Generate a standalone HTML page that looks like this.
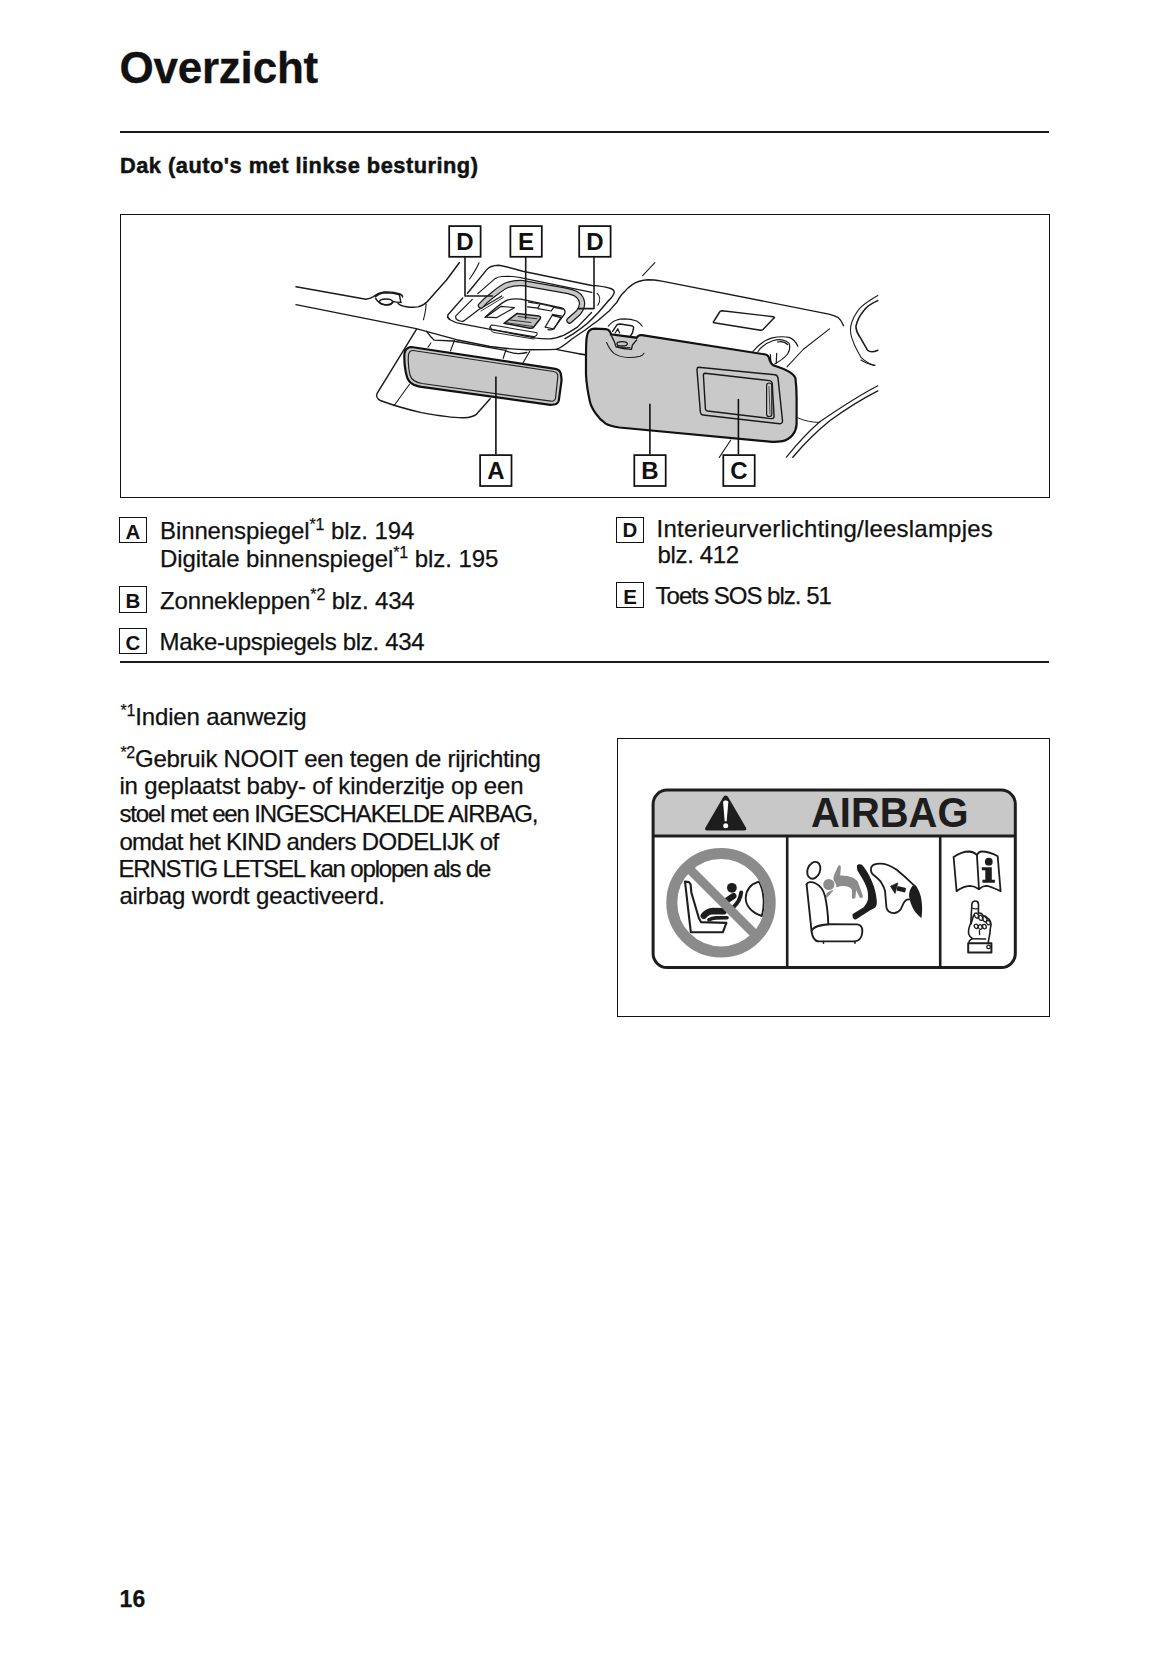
<!DOCTYPE html>
<html><head><meta charset="utf-8"><style>
*{box-sizing:border-box}
body{margin:0;background:#fff;width:1165px;height:1653px;overflow:hidden;position:relative}
.l{position:absolute;white-space:nowrap;font-family:"Liberation Sans",sans-serif;line-height:1;color:#111}
.l{-webkit-text-stroke:0.25px #111}
#sub{-webkit-text-stroke:0.5px #111}
#title{-webkit-text-stroke:0.3px #111}
.l sup{font-size:16px;vertical-align:0;position:relative;top:-9px;line-height:0}
.rule{position:absolute;left:120px;width:929px;height:2px;background:#1a1a1a}
.frame{position:absolute;border:1.5px solid #111}
.lb{position:absolute;width:27.4px;height:26.4px;border:1.4px solid #111;font:bold 20.5px/1 "Liberation Sans",sans-serif;text-align:center;color:#111}
.lb span{position:absolute;left:0;right:0;top:4px}
svg{position:absolute;left:0;top:0}
</style></head><body>
<div class="l" id="title" style="left:119.40px;top:46.00px;font-size:44px;font-weight:700;letter-spacing:-0.213px">Overzicht</div>
<div class="l" id="sub" style="left:120.00px;top:154.97px;font-size:21.8px;font-weight:700;letter-spacing:0.500px">Dak (auto's met linkse besturing)</div>
<div class="l" id="a1" style="left:160.00px;top:519.20px;font-size:24px;font-weight:400;letter-spacing:-0.104px">Binnenspiegel<sup>*1</sup> blz. 194</div>
<div class="l" id="a2" style="left:160.00px;top:547.00px;font-size:24px;font-weight:400;letter-spacing:-0.075px">Digitale binnenspiegel<sup>*1</sup> blz. 195</div>
<div class="l" id="b1" style="left:160.00px;top:589.40px;font-size:24px;font-weight:400;letter-spacing:-0.150px">Zonnekleppen<sup>*2</sup> blz. 434</div>
<div class="l" id="c1" style="left:159.60px;top:630.10px;font-size:24px;font-weight:400;letter-spacing:-0.313px">Make-upspiegels blz. 434</div>
<div class="l" id="d1" style="left:656.60px;top:517.30px;font-size:24px;font-weight:400;letter-spacing:0.216px">Interieurverlichting/leeslampjes</div>
<div class="l" id="d2" style="left:657.60px;top:543.40px;font-size:24px;font-weight:400;letter-spacing:-0.371px">blz. 412</div>
<div class="l" id="e1" style="left:655.60px;top:584.20px;font-size:24px;font-weight:400;letter-spacing:-0.988px">Toets SOS blz. 51</div>
<div class="l" id="f1" style="left:120.40px;top:705.10px;font-size:24px;font-weight:400;letter-spacing:-0.144px"><sup>*1</sup>Indien aanwezig</div>
<div class="l" id="p1" style="left:120.40px;top:747.00px;font-size:24px;font-weight:400;letter-spacing:-0.267px"><sup>*2</sup>Gebruik NOOIT een tegen de rijrichting</div>
<div class="l" id="p2" style="left:119.40px;top:773.50px;font-size:24px;font-weight:400;letter-spacing:-0.174px">in geplaatst baby- of kinderzitje op een</div>
<div class="l" id="p3" style="left:119.40px;top:801.50px;font-size:24px;font-weight:400;letter-spacing:-1.129px">stoel met een INGESCHAKELDE AIRBAG,</div>
<div class="l" id="p4" style="left:119.40px;top:830.00px;font-size:24px;font-weight:400;letter-spacing:-0.681px">omdat het KIND anders DODELIJK of</div>
<div class="l" id="p5" style="left:118.40px;top:857.00px;font-size:24px;font-weight:400;letter-spacing:-1.156px">ERNSTIG LETSEL kan oplopen als de</div>
<div class="l" id="p6" style="left:119.40px;top:884.00px;font-size:24px;font-weight:400;letter-spacing:-0.162px">airbag wordt geactiveerd.</div>
<div class="l" id="pg" style="left:119.40px;top:1588.35px;font-size:23px;font-weight:700;letter-spacing:0.200px">16</div>
<div class="rule" style="top:130.9px"></div>
<div class="frame" style="left:120px;top:214px;width:929.5px;height:284px"></div>
<div class="rule" style="top:661px"></div>
<div class="frame" style="left:617px;top:738px;width:432.5px;height:279px"></div>
<div class="lb" style="left:119.3px;top:516.9px"><span style="top:4px">A</span></div>
<div class="lb" style="left:119.3px;top:586.2px"><span style="top:4px">B</span></div>
<div class="lb" style="left:119.3px;top:627.5px"><span style="top:4px">C</span></div>
<div class="lb" style="left:616.3px;top:516.7px"><span style="top:2.3px">D</span></div>
<div class="lb" style="left:616.3px;top:582.1px"><span style="top:4px">E</span></div>
<svg width="1165" height="1653" viewBox="0 0 1165 1653" style="position:absolute;left:0;top:0">
<g fill="none" stroke="#1a1a1a" stroke-width="1.45" stroke-linecap="round" stroke-linejoin="round">
<!-- left headliner -->
<path d="M296,286.8 L366,299.2 C369,298.8 371,298 373,296.8 C376,294.5 380,292.5 384,292 C390,291.6 396,292.5 400,294 C402,295 402.8,296 402.5,297"/>
<path d="M375.5,296.6 C378,294.5 382,293 386,292.8 C392,292.8 396,293.5 399.4,294.7 L400.8,302.4"/>
<path d="M375.5,298.2 C377,301 380,304 385,305 C389,305.4 392,304 393.2,301.6 C395,302 398,302.3 401,302.4"/>
<ellipse cx="386" cy="301.8" rx="6.5" ry="2.8"/>
<path d="M397.9,303.2 C399,305 402,306.2 406.4,306.8 C410,307.4 414,307.6 418,306.9 C422,306 425,304 427.4,301.5 L446.5,280 L459.3,262.7"/>
<path d="M426.1,304 C426,309 425,314 423.4,319.8" stroke-width="1.08"/>

<path d="M426.5,331.2 C428.5,334 430.5,337 434.2,340.2 L453.1,341 L505.5,350.3 M505.5,350.8 C510,352.5 514,353.6 518.3,353.6 C522,353.5 525,353 526.8,352.5" stroke-width="1.3"/>
<path d="M416.4,329.4 L377,393.7 C376,396 377.5,399 380.3,400.5 C395,406 410,410 421.5,412.6 C440,416 455,418 464.4,417.7 C470,417.5 474,416 476.4,414.3 L490.2,398.8"/>
<path d="M409.5,384.2 L394,405.7" stroke-width="1.08"/>
<path d="M430.8,343 L428,347.2" stroke-width="1.08"/>
<path d="M469.6,279 C473,274 477,268 479,262.7" stroke-width="1.08"/>
<!-- console -->
<path d="M467.5,293.2 L486.8,269.6 C489,267 492,265.5 498.4,265.3 C503,265.5 510,267.5 522.8,271.3 L591.8,285.5 L597.8,285.9 C603,286.6 608,287.5 610.7,288.5 C613.5,289.5 615,291.5 613.7,294 C612.5,296.5 611,298.5 609.1,300.1 L598.3,312.5 C594.5,316.5 591,320 587.5,323.3 C582.5,327.5 577.5,331 572.8,334.1 L565,338.7"/>
<path d="M477.8,293.6 L495,278.6 C497,277.5 499,276.7 501.8,276.5 C505,276.3 509,276.3 513,276.5 C517,277 520,277.5 522.8,278.2 L591.8,292.3" stroke-width="1.2"/>
<path d="M462.7,298 L448,314.8 C447.2,316.5 447.8,318.3 449.5,319.6" stroke-width="1.3"/>
<path d="M472.3,299.4 L455.8,315.9 C455.3,318 456.8,320 459.2,320.7 C460.5,321.2 461.8,321.4 462.7,321.4 C464,320.8 465,320 466.1,319.3 L478.5,309.7 L501.8,296" stroke-width="1.2"/>
<path d="M447.6,316.8 C449,318.5 450,319.5 451,320.2 C454,322 457,323 460.6,323.7 L536.2,338.1 C541,338.8 546,339 549.9,338.8 C554,338.5 559,337 563.6,335.3 C568,333 573,330 577.4,327.1 L591.5,312.5" stroke-width="1.32"/>
<path d="M296,304.6 L416.2,328.6 L456.5,339.7 L490,346.5 C505,348.5 514,349.6 527.8,349.8 C540,349.8 548,349.6 556.1,349.4 C562,347.5 567,343 571.2,339.5 L585.9,329.5 C592,325 595,322.5 598.3,320.2 L609.1,310.9 C612,308 614,305 616.8,302.4 C619,298 621,294.5 624.6,291.6 C627,288.5 629.5,286.5 632.3,284.6 C636,282 641,280 648.1,279.7 C653,279.7 657,280.3 661.8,281.1 L828.8,314.1 C832,315 835,316 837.9,317.3 C840,319 842,322 843.6,325.7" stroke-width="1.38"/>

<path d="M454.4,340.6 L450.5,350.9 M506,349.6 L503.2,358.3 M529.7,351.2 L523,363" stroke-width="1.2"/>
<path d="M556,349.4 L585.5,355" stroke-width="1.3"/>
<path d="M597,293.2 C600,296 601,300 597.8,305.2" stroke-width="1.08"/>

<!-- console inner buttons -->
<path d="M485.1,317.2 C493,310 500,304 506,300.6 C510,298.8 515,298.6 521,299.2 L561.5,307.8 C564.5,308.8 565.8,311 564.5,314 L553.5,328.8 C552.5,330 550.5,330.2 548,329.6" stroke-width="1.32"/>
<path d="M501.2,306.3 L514.4,307.7 L496.4,317.7 L485.6,317.2 Z" stroke-width="1.2"/>
<path d="M528.5,302.1 L539.9,304 L538,308.2 L527.6,306.8 M540.8,304 L554,306.8 L551.2,311 L538,308.7 M554.5,307.3 L563,309.2 M552.2,314.4 L561.6,316.2 M552.2,315.3 L560.7,317.7 L554,329 L545.1,327.1 Z" stroke-width="1.2"/>
<path d="M491.2,325.2 C489.8,326.5 490.5,328.5 492.5,329.5 L533.5,336.6 C535.5,336.9 537.5,335 537,332.8 L492.5,325 Z" stroke-width="1.08"/>
<path d="M490,326.5 C489,329 490.5,331 494,332.5 L534,339" stroke-width="0.96"/>
<!-- console strip D (gray) -->
<path d="M481,305.5 C484,302 488,298.5 492,295.5 C497,291.5 502,287 507.5,285 C512,283.3 517,282.8 523,283.1 L564.3,290.4 C570,291.5 574,292.5 576.5,294.2 C579.5,296 581.5,299 582,302.5 C582.3,306 581,309.5 578.5,312.5 L569.5,320.5" stroke="#1a1a1a" stroke-width="6.4" stroke-linecap="round" fill="none"/>
<path d="M481,305.5 C484,302 488,298.5 492,295.5 C497,291.5 502,287 507.5,285 C512,283.3 517,282.8 523,283.1 L564.3,290.4 C570,291.5 574,292.5 576.5,294.2 C579.5,296 581.5,299 582,302.5 C582.3,306 581,309.5 578.5,312.5 L569.5,320.5" stroke="#c6c6c6" stroke-width="4.0" stroke-linecap="round" fill="none"/>
<path d="M481,311 L503.5,297.3" stroke-width="0.9"/>
<!-- SOS button E (gray) -->
<path d="M504,323.3 L517.2,313.4 L538.5,316 C540.5,316.4 541,317.5 540,319 L533.5,327.3 C532.8,328.2 531.5,328.4 530,328.2 Z" fill="#bdbdbd" stroke-width="1.56"/>
<path d="M506.5,322.8 L533,326.5 M510,320 L531,322.5 M518,316.5 L537,318.8" stroke="#333" stroke-width="1.08"/>
<!-- top labels leaders -->
<path d="M465,257.5 L465,296 L492.4,296" stroke-width="1.6"/>
<path d="M525.7,257.5 L525.7,318.8" stroke-width="1.6"/>
<path d="M594,257.5 L594,308.6 L578.1,308.6" stroke-width="1.6"/>
<!-- roof panel right -->
<path d="M642.6,275.6 L654.9,262.6" stroke-width="1.08"/>

<path d="M722.2,310.7 L773.3,316.7 C774.5,317 775,318 773.5,318.5 L763,329.6 C762,330.2 760.5,330.3 759,330 L714,322.8 C713,322.5 713,322 714,321 L720,311.5 C720.5,311 721.3,310.7 722.2,310.7 Z"/>
<path d="M829.5,328.9 L803.1,349.5 L787,366.9" stroke-width="1.08"/>
<path d="M752.9,351.5 C758,345 765,340 772.2,337.9 C778,336.5 784,336.5 788.9,337.3 C793,338.5 796,342 797.9,346.3" stroke-width="1.2"/>
<path d="M758,351.5 C762,346 767,342.5 773.5,340.5 C779,339 785,340 788.9,343.1 C790.5,347 789.5,351 787.6,354 C785,357.5 781,360.5 774.8,363.7 M776.7,353.4 L776.2,363.5 M770.3,354.7 L770.9,362.4 M777.5,342 C781,341.3 785,341.8 787.5,344.5" stroke-width="1.2"/>
<path d="M877.8,295.5 C870,300 864,304 859.7,308.3 C855,314 852,320 850.7,326.4 C850,332 851,337 853.3,341.8 C855,347 858,352 861,357.3 C865,361 869,364 874.5,365.6" stroke-width="1.08"/>
<path d="M877.8,300.6 C872,303 867,306 863.6,310.9 C859,316 857,321 855.9,326.4 C856,330 857.5,333.5 859.7,336.7 L867.5,350.2 C870,352.5 874,352 877.8,350.2" stroke-width="1.56"/>
<path d="M861,360 C865,363 870,364.5 875.2,365.2" stroke-width="1.08"/>
<!-- windshield lines -->
<path d="M877.8,385.8 C860,395 840,408 819.8,421.8 C808,432 797,444 786.4,457.2" stroke-width="1.2"/>
<path d="M877.8,390.9 C862,399 846,409 830.1,420.5 C817,431 804,444 792.8,457.2" stroke-width="1.4"/>
<path d="M797.9,417.9 C805,421 812,422.5 819.8,422.4" stroke-width="0.96"/>
<path d="M730.8,440 L719.3,457.4" stroke-width="1.08"/>
<!-- pivot bracket above visor -->
<path d="M608.3,326.2 C611,323 613,321 616.1,320.2 C619,319.2 622,318.9 624.6,318.9 C629,319 633,319.8 636.7,321 C639,322.5 641,324 642.2,326.2" stroke-width="1.08"/>
<path d="M612.6,331.3 L616.9,324.9 C617.8,324.2 619,324 620.3,324 L631.5,325.7 C633,326.2 634,327 633.6,328 L632.4,333 L630.6,335.6" stroke-width="1.44"/>
<path d="M615.2,333 L617.8,328.7 L619.5,333" stroke-width="1.2"/>
<path d="M580,354 L586,354.5" stroke-width="1.2"/>
</g>
<!-- rear view mirror -->
<path d="M411.2,347 L555.4,368.8 C558,369.3 560,371 560.6,373 C561.5,377 561.5,381 561.4,381.7 L558.8,400.5 C558,403 556,404.5 553.7,404.5 C552,404.8 551,404.8 550.3,404.8 L421.5,386.8 C418,386.2 415,385.5 412.9,384.2 C409,382 407.5,379 406.9,376.5 C405,370 404.3,362 404.3,355.9 C404.3,352 406,349 408,348 C409,347.3 410,347 411.2,347 Z" fill="#c8c8c8" stroke="#111" stroke-width="2.2"/>
<path d="M413,350.5 L553.5,371.5 C556.5,372 558,374.5 557.8,377 L555.5,398 C555,400.5 553.5,401.5 551,401.2 L422,383.5 C416,382.5 411.5,380 410,375 C408.5,369 408,361 408.5,355 C409,352 410.5,350.3 413,350.5 Z" fill="none" stroke="#222" stroke-width="1.2"/>
<!-- sun visor -->
<path d="M586,375 C586,360 585.8,345 586.5,339 C587,335 587.5,332.5 589,331 C590.5,329.5 592,328.8 594,328.7 L605.8,329.2 C607.5,329.5 609,330 609.6,331.2 C610.3,332.3 610.9,333.5 610.9,334.3 L636.7,337.7 C637.5,336.5 638.3,335.7 639.5,335.3 C640.5,335.1 641.2,335.1 641.8,335.2 L765.6,354.5 C767.5,355 769,356.5 769.6,360 C771,363.5 773,365.5 774.8,365.8 C780,367.5 785,369.5 788.9,371.6 C792,373.5 794.5,375.5 795.4,378 C796.3,385 796.6,392 796.6,398.6 L796.6,424.4 C796.3,428.5 795,432 792.8,434.7 C790,438 786,440.5 782.5,441.1 C778,441.8 775,441.9 772.2,441.8 L619.5,427.5 C613,426.5 608,425 605.7,423.6 C601,420.5 598,417 595.8,413.7 C592,408 590.5,404 590,401.9 C588,393 586.5,384 586,375 Z" fill="#c9c9c9" stroke="#111" stroke-width="2.2"/>
<g fill="none" stroke="#1a1a1a" stroke-linecap="round" stroke-linejoin="round">
<!-- pivot cover on visor -->
<path d="M610.9,334.7 L614.3,341.6 L616,346.8 C620,348 626,349 631.5,349.3 L632.4,345 L636.7,339.9" stroke-width="1.32"/>
<ellipse cx="622.1" cy="343.8" rx="5.2" ry="2.2" stroke-width="1.32"/>
<path d="M617,346.5 C620,347.5 626,348 630,347.5" stroke-width="0.96"/>
<path d="M606.6,342.5 C608.5,347 611,351 614.3,353.6 C618,356 623,357.3 628.1,357.5 C633,357.7 637,357 640.1,356.2 C642,355.5 643.2,354.5 644,353.2" stroke-width="1.08"/>
<!-- vanity mirror -->
<path d="M698.5,367.3 L774.8,374.8 C776.5,375 777.6,376.2 778,378 L782.5,420.5 C782.6,422.5 781.5,423.8 779.9,423.7 L703,415 C701.5,414.8 700.6,413.8 700.4,412.4 L697,370 C696.9,368.5 697.3,367.4 698.5,367.3 Z" stroke-width="1.44"/>
<path d="M705,373.3 L769.6,380.6 C771,380.8 772,382 772.2,383.2 L774.1,416.6 C774.1,417.9 773,418.8 770.9,418.6 L707.5,411 C706.3,410.8 705.5,410 705.4,408.8 L703.4,375.3 C703.4,374 704,373.3 705,373.3 Z" stroke-width="1.44"/>
<rect x="766.6" y="383" width="5.2" height="33.5" rx="2.6" stroke-width="1.2"/>
<path d="M769,386.5 L770,414" stroke-width="0.7"/>
</g>
<!-- bottom leaders -->
<g stroke="#111" stroke-width="1.6">
<path d="M495.9,376.5 L495.9,454.5"/>
<path d="M649.9,403.8 L649.9,454.5"/>
<path d="M738.4,398.9 L738.4,454.5"/>
</g>
<!-- label boxes -->
<g fill="#fff" stroke="#111" stroke-width="1.75">
<rect x="449.2" y="226.1" width="31.4" height="30.7"/>
<rect x="510.4" y="226.1" width="31.4" height="30.7"/>
<rect x="579.2" y="226.1" width="31.4" height="30.7"/>
<rect x="480.1" y="455.1" width="31.4" height="30.9"/>
<rect x="634.3" y="455.1" width="31.4" height="30.9"/>
<rect x="723.3" y="455.1" width="31.4" height="30.9"/>
</g>
<g font-family="Liberation Sans" font-weight="700" font-size="24" fill="#111" text-anchor="middle">
<text x="465" y="249.9">D</text>
<text x="526.1" y="249.9">E</text>
<text x="594.9" y="249.9">D</text>
<text x="495.8" y="479.2">A</text>
<text x="650" y="479.2">B</text>
<text x="739" y="479.2">C</text>
</g>
</svg>

<svg width="1165" height="1653" viewBox="0 0 1165 1653" style="position:absolute;left:0;top:0">
<!-- header gray -->
<path d="M653.1,836 L653.1,804 Q653.1,790.1 667,790.1 L1001.3,790.1 Q1015.3,790.1 1015.3,804 L1015.3,836 Z" fill="#c8c8c8"/>
<!-- outer frame -->
<rect x="653.1" y="790.1" width="362.2" height="177.5" rx="14" ry="14" fill="none" stroke="#1d1d1d" stroke-width="3"/>
<path d="M653.1,836 L1015.3,836" stroke="#1d1d1d" stroke-width="3"/>
<path d="M787.2,836 L787.2,967.6 M940.2,836 L940.2,967.6" stroke="#1d1d1d" stroke-width="2.6"/>
<!-- warning triangle -->
<path d="M725.7,795.5 C724.5,795.5 723.8,796.2 723,797.5 L705.5,827.5 C704.5,829.3 705.3,830.6 707.3,830.6 L744.1,830.6 C746.1,830.6 746.9,829.3 745.9,827.5 L728.4,797.5 C727.6,796.2 726.9,795.5 725.7,795.5 Z" fill="#1d1d1d"/>
<path d="M723.1,802.3 C723.1,799.8 728.3,799.8 728.3,802.3 L726.7,821.3 L724.7,821.3 Z" fill="#fff"/>
<circle cx="725.7" cy="825.8" r="2.5" fill="#fff"/>
<text x="811" y="827.3" font-family="Liberation Sans" font-weight="700" font-size="42" fill="#1d1d1d" textLength="157.5" lengthAdjust="spacingAndGlyphs">AIRBAG</text>
<!-- left panel: child seat -->
<g fill="none" stroke="#1d1d1d" stroke-width="2.1" stroke-linejoin="round" stroke-linecap="round">
<path d="M685,881.6 L688.9,882 L690.6,884.3 L691.4,892.8 L698.9,918.3 L701,922.1 L726.4,922.9 L722.9,932.2 L690.8,932.2 Z"/>
<path d="M758.8,881.6 C751,884 746,890 745.7,898.2 C745.8,906 752,913 761.9,916 C763.5,910 764,904 763.5,898.2 C763,892 761.5,886 758.8,881.6 Z" stroke-width="1.9"/>
</g>
<circle cx="731.9" cy="887.8" r="4.9" fill="#1d1d1d"/>
<g fill="none" stroke="#1d1d1d" stroke-linecap="round" stroke-linejoin="round">
<path d="M726.5,900.8 L733.5,896" stroke-width="6"/>
<path d="M733.5,907 C737.5,903.5 740.5,898 741.2,892.5" stroke-width="4"/>
<path d="M703.8,915.8 C706.5,912.5 709.5,911.2 713,911 L723.5,911.3" stroke-width="6.5"/>
<path d="M709,919.8 C711,918.5 713,918 716,917.9 L727,917.7" stroke-width="3.6"/>
</g>
<!-- prohibition -->
<circle cx="721" cy="902.7" r="49.2" fill="none" stroke="#8b8b8b" stroke-width="11"/>
<path d="M689,868.5 L753.5,933" stroke="#8b8b8b" stroke-width="9.2"/>
<!-- middle panel -->
<g fill="none" stroke="#1d1d1d" stroke-width="1.9" stroke-linejoin="round" stroke-linecap="round">
<ellipse cx="813.8" cy="870.3" rx="6.2" ry="8.7" transform="rotate(22 813.8 870.3)"/>
<path d="M806.6,884.5 C807.5,881.8 811.5,881.5 815,883 C820,885.5 823.5,890 825,896 C827,905 828,915 828.3,924.3"/>
<path d="M806.6,884.5 L811.5,930.5"/>
<path d="M811.5,931 C813,927.5 820,924.6 830,924.3 L857.5,924.4 C861,925 862.6,928 862.3,932 C861.8,937.5 859.5,941 855,941.4 L818.5,941.4 C814.5,941 812.3,937 811.5,931 Z"/>
<path d="M823.5,941.5 L823.5,943.3 M855,941.5 L855,943.3" stroke-width="1.5"/>
</g>
<circle cx="828.8" cy="884.5" r="5.6" fill="#8c8c8c"/>
<path d="M839.3,865.3 C840.5,865.3 841,866.5 840.8,868 L840.2,875.5 C844,875.3 849,876 852.6,877.6 C855.5,879 857.5,881 858.5,883.5 L862.8,895.5 C863.3,897.2 862.3,898 861,898 C860,898 859.5,897.3 859.2,896.5 L856.2,890 L855.4,897.5 C855,898.8 853.8,899 853,898.8 C852.2,898.5 852,897.8 852,897 L852,890 C851,888 849,886.8 846,886.2 C843,885.8 840,886 836.5,887.5 L835.8,884 C834.5,882 833.5,880 833.3,878 C834.5,874 836.5,869 838,866.5 C838.4,865.7 838.8,865.3 839.3,865.3 Z" fill="#8c8c8c"/>
<path d="M826.2,898.2 L826.9,893.5 C828.5,892 830.5,891 832.9,890.6 Z" fill="#8c8c8c" stroke="#8c8c8c" stroke-width="0.8" stroke-linejoin="round"/>
<path d="M856.9,866 C857,864.5 859,864 860.3,864.3 C861.3,864.5 862,865 862.4,865.3 C865,868 867,871.5 869.2,875.6 C871.5,880 873.5,885 874.7,889.3 C875.8,893 876.6,897.5 876.8,901.7 C876.9,904 876.5,906 875.4,907.2 C874,908.5 872.5,909.2 870.6,910 L856.2,919.2 C854.5,919.8 853.3,919 852.7,916.8 C852.3,915.5 852.5,914.5 852.7,914.1 L863.7,907.2 C866,904.5 867.5,902 867.9,899.6 C868.2,896 868,892.5 867.2,889.3 C866.2,886.5 865,883.5 863.7,881.1 L857.6,870.8 C857,869 856.8,867.5 856.9,866 Z" fill="#1d1d1d"/>
<path d="M913.5,884.8 C908,879.5 903,875 896.7,869.8 C893,867.2 890,865.8 887.8,865 C885,864 882.5,863.6 880.2,863.6 C877,863.6 875,864.2 874,864.6 C871.8,865.5 870.8,867.5 870.9,870.1 C871,872 871.8,873.3 872.7,874.2 L877.5,878.3 C879.5,880 881.2,882 882.3,884.5 C883.8,887 884.6,889 885,890.7 L886.4,907.2 C886.8,909.2 887.5,910.5 888.5,911.3 C890.5,912.8 892.5,913.2 894.6,913 C897.5,912.6 899.5,911 900.8,909.2 L903.6,903.1 C904.8,901.2 905.8,900 907,899.6 L909.3,899.3" fill="none" stroke="#1d1d1d" stroke-width="1.8" stroke-linecap="round" stroke-linejoin="round"/>
<path d="M897,888.3 L905.6,890.2" stroke="#1d1d1d" stroke-width="4.6"/>
<path d="M890.5,886.2 L897.8,882.9 L895,893.5 Z" fill="#1d1d1d" stroke="#1d1d1d" stroke-width="0.8" stroke-linejoin="round"/>
<path d="M914.5,884.5 C916,885.5 917,886.8 917.3,888 C919,890.5 920,893.5 920.7,896.2 C921.6,900 922,903.5 922.1,907.2 C922.2,911 921.9,915 921.4,918.2 C919.5,916.5 917.5,914.5 915.9,912.7 C914,910.5 912.8,908.3 911.8,905.8 C910.5,902.5 909.5,899.5 909.1,896.2 C909,893.5 909.5,891.2 910.4,889.3 C911.2,887.5 912.3,886 913.2,885.2 Z" fill="#1d1d1d"/>
<!-- right panel: book + hand -->
<g fill="none" stroke="#1d1d1d" stroke-width="1.8" stroke-linejoin="round" stroke-linecap="round">
<path d="M953.6,857 C958,854 964,851.5 969,851.5 C972,851.7 975,853 976.9,854.9 L979,889.2 C976,887 973,885.8 970,885.8 C965,886 960,888.5 956.6,891.3 Z"/>
<path d="M976.9,854.9 C978,853 980,851.5 981.6,851.5 C987,851.5 993,853.5 997.7,856.2 L1000.6,891.3 C996,889 991,886 985.8,885.8 C983,885.8 981,887.2 979,889.2"/>
</g>
<circle cx="988.8" cy="861.7" r="3.9" fill="#1d1d1d"/>
<path d="M981.8,867.3 L991.8,867.3 L991.8,879.8 L994.9,879.8 L994.9,882.8 L982.4,882.8 L982.4,879.8 L985.3,879.8 L985.3,870.2 L981.8,870.2 Z" fill="#1d1d1d"/>
<g fill="none" stroke="#1d1d1d" stroke-width="1.6" stroke-linejoin="round" stroke-linecap="round">
<path d="M970.8,923 L971.9,904 C972.2,902 973.6,901 975.3,901 C977,901 978.4,902.2 978.5,904.4 L978.4,913"/>
<path d="M972.7,908.2 C974.2,909 976,909 977.5,908.6" stroke-width="1.3"/>
<path d="M973.6,915.2 L971,924"/>
<path d="M970.8,923 C969,927 968.3,931 968.6,933.6 C969,935.5 970.3,937 972.3,938.3 C970.5,939.5 969.3,940.5 968.9,942"/>
<path d="M978.4,913 C980.5,912.8 982.5,914 983,915.8 C984.5,915.6 986,916.2 986.8,917.5 C988.5,918.2 990,919.8 990.6,922 C991.3,924 991.3,926.5 990.3,928.5 C990.2,931 990,933.5 989.5,935.5 C989,938 988.4,940 988.3,943"/>
<ellipse cx="976.6" cy="915.6" rx="1.9" ry="2.8" transform="rotate(-35 976.6 915.6)" stroke-width="1.3"/>
<ellipse cx="980.6" cy="917.8" rx="1.9" ry="2.8" transform="rotate(-35 980.6 917.8)" stroke-width="1.3"/>
<ellipse cx="984.8" cy="919.3" rx="1.9" ry="2.8" transform="rotate(-35 984.8 919.3)" stroke-width="1.3"/>
<ellipse cx="988.3" cy="922.6" rx="1.8" ry="2.4" transform="rotate(-35 988.3 922.6)" stroke-width="1.3"/>
<ellipse cx="976.2" cy="926.3" rx="1.8" ry="2.2" transform="rotate(-35 976.2 926.3)" stroke-width="1.3"/>
<ellipse cx="980.2" cy="927" rx="1.8" ry="2.3" transform="rotate(-20 980.2 927)" stroke-width="1.3"/>
<ellipse cx="984.4" cy="926.6" rx="1.8" ry="2.3" transform="rotate(-20 984.4 926.6)" stroke-width="1.3"/>
<path d="M979.4,930.5 L979.6,934.5" stroke-width="1.3"/>
<path d="M972.3,938.8 L985.6,939" stroke-width="1.5"/>
<path d="M968.2,943.2 L991.4,943.2 L991.4,952.4 L968.2,952.4 Z" stroke-width="2"/>
<circle cx="988.6" cy="946.9" r="1.8" stroke-width="1.3"/>
</g>
</svg>

</body></html>
